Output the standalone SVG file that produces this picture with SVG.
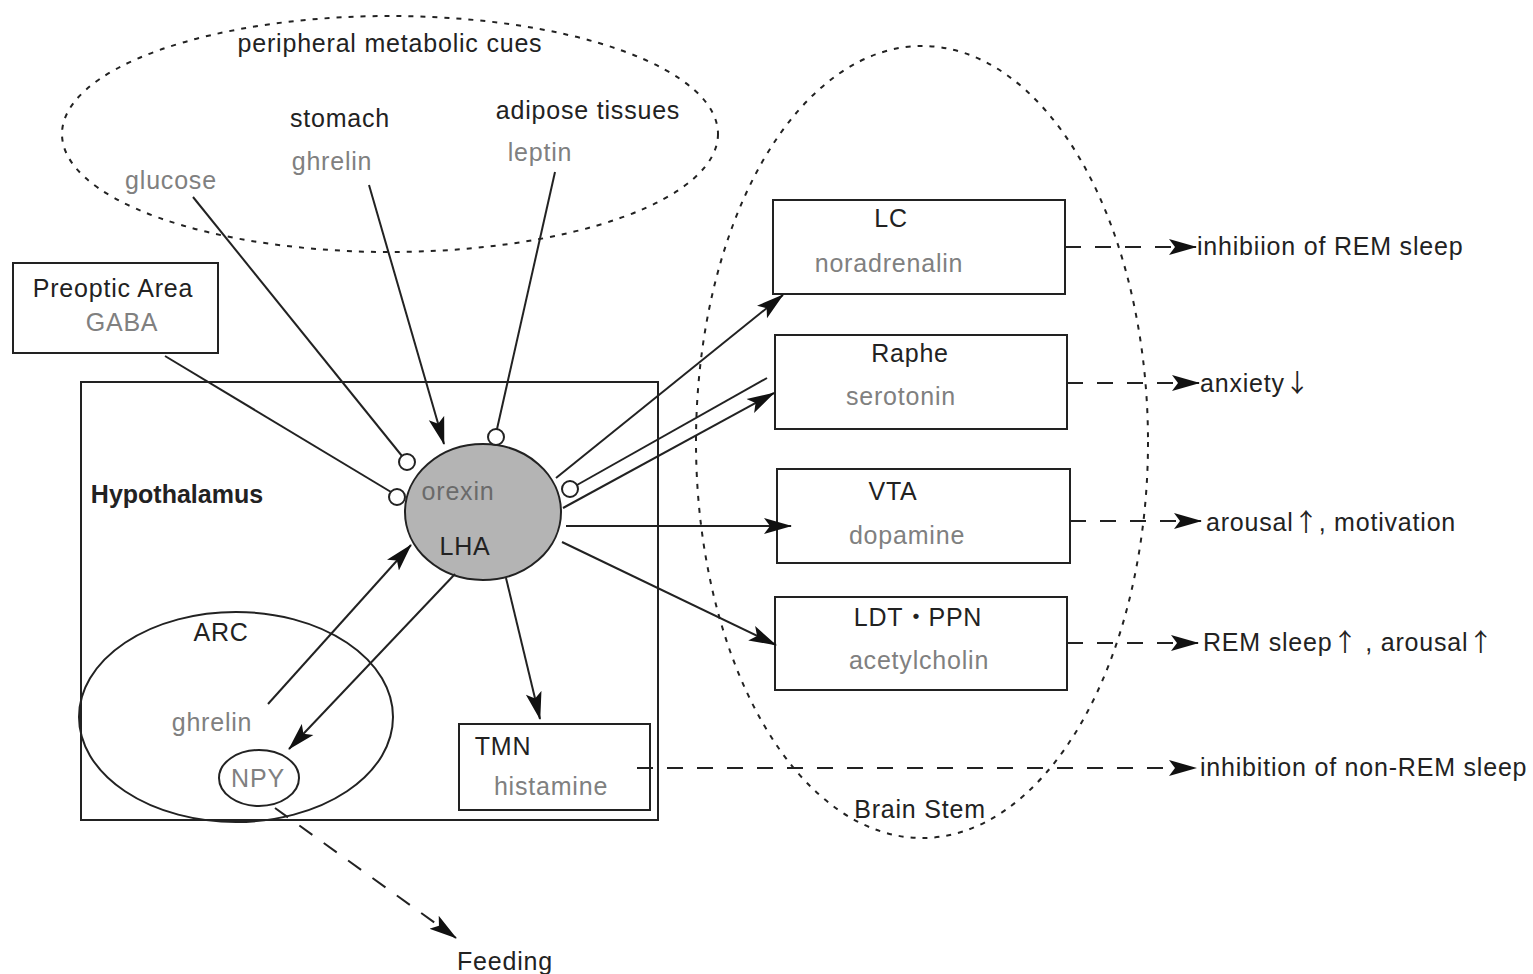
<svg xmlns="http://www.w3.org/2000/svg" width="1533" height="974" viewBox="0 0 1533 974">
<style>
text{font-family:"Liberation Sans",Arial,sans-serif;font-size:25px;letter-spacing:0.8px;fill:#222}
.g{fill:#808080}
.b{font-weight:bold;letter-spacing:0}
.m{text-anchor:middle}
.ar{font-family:"Noto Sans CJK JP","Noto Sans",sans-serif;letter-spacing:0}
.box{fill:#fff;stroke:#222;stroke-width:2}
.ln{fill:none;stroke:#222;stroke-width:2}
.dl{fill:none;stroke:#222;stroke-width:2;stroke-dasharray:16 14}
.dot{fill:none;stroke:#222;stroke-width:2;stroke-dasharray:5 7}
.cir{fill:#fff;stroke:#222;stroke-width:2}
</style>
<defs>
<marker id="ah" viewBox="0 0 28 18" refX="27" refY="9" markerWidth="28" markerHeight="18" markerUnits="userSpaceOnUse" orient="auto">
<path d="M0,1 L28,9 L0,17 L6,9 Z" fill="#111"/>
</marker>
</defs>
<rect width="1533" height="974" fill="#fff"/>
<g id="cues">
<ellipse cx="390" cy="134" rx="328" ry="118" class="dot"/>
<text x="390" y="52" class="m">peripheral metabolic cues</text>
<text x="340" y="127" class="m">stomach</text>
<text x="588" y="119" class="m">adipose tissues</text>
<text x="332" y="170" class="m g">ghrelin</text>
<text x="540" y="161" class="m g">leptin</text>
<text x="171" y="189" class="m g">glucose</text>
</g>
<g id="brainstem">
<ellipse cx="922" cy="442" rx="226" ry="396" class="dot"/>
<text x="920" y="818" class="m">Brain Stem</text>
</g>
<g id="hypothalamus">
<rect x="81" y="382" width="577" height="438" class="ln"/>
<text x="177" y="503" class="m b">Hypothalamus</text>
</g>
<g id="preoptic">
<rect x="13" y="263" width="205" height="90" class="box"/>
<text x="113" y="297" class="m">Preoptic Area</text>
<text x="122" y="331" class="m g">GABA</text>
</g>
<g id="arc">
<ellipse cx="236" cy="717" rx="157" ry="105" class="ln"/>
<text x="221" y="641" class="m">ARC</text>
<text x="212" y="731" class="m g">ghrelin</text>
</g>
<g id="npy">
<ellipse cx="259" cy="778" rx="40" ry="28" class="box"/>
<text x="258" y="787" class="m g">NPY</text>
</g>
<g id="lha">
<ellipse cx="483" cy="512" rx="78" ry="68" fill="#b4b4b4" stroke="#222" stroke-width="2"/>
<text x="458" y="500" class="m g" style="fill:#6a6a6a">orexin</text>
<text x="465" y="555" class="m">LHA</text>
</g>
<g id="tmn">
<rect x="459" y="724" width="191" height="86" class="box"/>
<text x="503" y="755" class="m">TMN</text>
<text x="551" y="795" class="m g">histamine</text>
</g>
<g id="lc">
<rect x="773" y="200" width="292" height="94" class="box"/>
<text x="891" y="227" class="m">LC</text>
<text x="889" y="272" class="m g">noradrenalin</text>
</g>
<g id="raphe">
<rect x="775" y="335" width="292" height="94" class="box"/>
<text x="910" y="362" class="m">Raphe</text>
<text x="901" y="405" class="m g">serotonin</text>
</g>
<g id="vta">
<rect x="777" y="469" width="293" height="94" class="box"/>
<text x="893" y="500" class="m">VTA</text>
<text x="907" y="544" class="m g">dopamine</text>
</g>
<g id="ldt">
<rect x="775" y="597" width="292" height="93" class="box"/>
<text x="918" y="626" class="m">LDT<tspan class="ar">・</tspan>PPN</text>
<text x="919" y="669" class="m g">acetylcholin</text>
</g>
<g id="outputs">
<text x="1197" y="255">inhibiion of REM sleep</text>
<text x="1200" y="392">anxiety<tspan class="ar">↓</tspan></text>
<text x="1206" y="531">arousal<tspan class="ar">↑</tspan>, motivation</text>
<text x="1203" y="651">REM sleep<tspan class="ar">↑</tspan> , arousal<tspan class="ar">↑</tspan></text>
<text x="1200" y="776">inhibition of non-REM sleep</text>
<text x="505" y="970" class="m">Feeding</text>
</g>
<g id="connectors">
<line x1="165" y1="356" x2="391" y2="492" class="ln"/>
<circle cx="397" cy="497" r="8" class="cir"/>
<line x1="193" y1="197" x2="402" y2="456" class="ln"/>
<circle cx="407" cy="462" r="8" class="cir"/>
<line x1="369" y1="185" x2="444" y2="444" class="ln" marker-end="url(#ah)"/>
<line x1="555" y1="172" x2="497" y2="429" class="ln"/>
<circle cx="496" cy="437" r="8" class="cir"/>
<line x1="556" y1="478" x2="783" y2="295" class="ln" marker-end="url(#ah)"/>
<line x1="577" y1="485" x2="767" y2="378" class="ln"/>
<circle cx="570" cy="489" r="8" class="cir"/>
<line x1="563" y1="508" x2="774" y2="393" class="ln" marker-end="url(#ah)"/>
<line x1="566" y1="526" x2="791" y2="526" class="ln" marker-end="url(#ah)"/>
<line x1="562" y1="542" x2="776" y2="645" class="ln" marker-end="url(#ah)"/>
<line x1="506" y1="578" x2="540" y2="719" class="ln" marker-end="url(#ah)"/>
<line x1="268" y1="704" x2="411" y2="545" class="ln" marker-end="url(#ah)"/>
<line x1="455" y1="574" x2="289" y2="749" class="ln" marker-end="url(#ah)"/>
<line x1="275" y1="808" x2="456" y2="938" class="dl" marker-end="url(#ah)"/>
<line x1="1065" y1="247" x2="1196" y2="247" class="dl" marker-end="url(#ah)"/>
<line x1="1067" y1="383" x2="1199" y2="383" class="dl" marker-end="url(#ah)"/>
<line x1="1070" y1="521" x2="1201" y2="521" class="dl" marker-end="url(#ah)"/>
<line x1="1067" y1="643" x2="1198" y2="643" class="dl" marker-end="url(#ah)"/>
<line x1="637" y1="768" x2="1196" y2="768" class="dl" marker-end="url(#ah)"/>
</g>
</svg>
